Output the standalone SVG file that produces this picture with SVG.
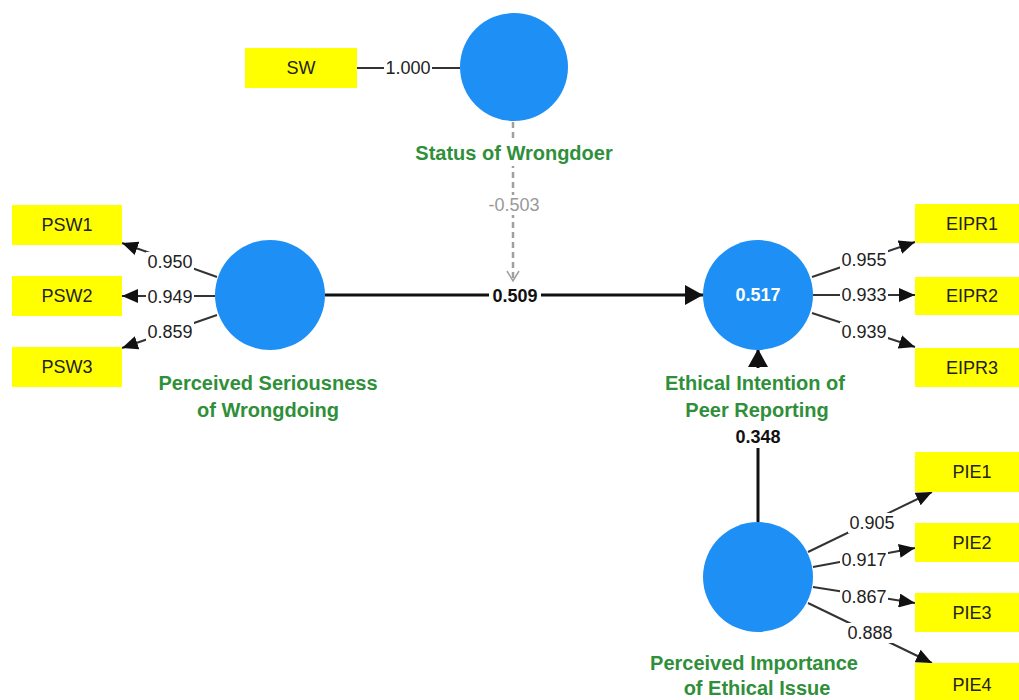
<svg xmlns="http://www.w3.org/2000/svg" width="1019" height="700" viewBox="0 0 1019 700">
<style>
.bg{fill:#ffffff}
.ind rect{fill:#ffff00}
.ind text{font-family:"Liberation Sans",Arial,sans-serif;font-size:18px;fill:#222;text-anchor:middle}
.lv circle{fill:#1e90f5}
.lbl{font-family:"Liberation Sans",Arial,sans-serif;font-size:20px;font-weight:bold;fill:#2f8f3a;text-anchor:middle}
.r2{font-family:"Liberation Sans",Arial,sans-serif;font-size:18px;font-weight:bold;fill:#fff;text-anchor:middle}
.load{stroke:#333;stroke-width:2;fill:none}
.path{stroke:#111;stroke-width:3;fill:none}
.mod{stroke:#a0a0a0;stroke-width:2.5;stroke-dasharray:6 4;fill:none}
.num{font-family:"Liberation Sans",Arial,sans-serif;font-size:18px;fill:#222;text-anchor:middle}
.bnum{font-weight:bold;fill:#111}
.gnum{fill:#999}
.lb{fill:#ffffff}
</style>
<defs>
<marker id="ah" viewBox="0 0 16 14" refX="16" refY="7" markerWidth="16" markerHeight="14" markerUnits="userSpaceOnUse" orient="auto">
<path d="M0,0 L16,7 L0,14 Z" fill="#111"/>
</marker>
<marker id="ahb" viewBox="0 0 18 20" refX="18" refY="10" markerWidth="18" markerHeight="20" markerUnits="userSpaceOnUse" orient="auto">
<path d="M0,0 L18,10 L0,20 Z" fill="#111"/>
</marker>
<marker id="aho" viewBox="0 0 12 14" refX="11" refY="7" markerWidth="12" markerHeight="14" markerUnits="userSpaceOnUse" orient="auto">
<path d="M1,1 L11,7 L1,13" fill="none" stroke="#a0a0a0" stroke-width="1.5"/>
</marker>
</defs>
<rect class="bg" x="0" y="0" width="1019" height="700"/>

<g id="connectors">
<line class="load" x1="357" y1="68" x2="460" y2="68"/>
<line class="load" x1="217" y1="277" x2="122" y2="243" marker-end="url(#ah)"/>
<line class="load" x1="215" y1="296" x2="122" y2="296" marker-end="url(#ah)"/>
<line class="load" x1="217" y1="315" x2="122" y2="348" marker-end="url(#ah)"/>
<line class="load" x1="812" y1="277" x2="915" y2="242" marker-end="url(#ah)"/>
<line class="load" x1="813" y1="295" x2="915" y2="295" marker-end="url(#ah)"/>
<line class="load" x1="812" y1="313" x2="915" y2="347" marker-end="url(#ah)"/>
<line class="load" x1="808" y1="552" x2="932" y2="492" marker-end="url(#ah)"/>
<line class="load" x1="813" y1="567" x2="915" y2="548" marker-end="url(#ah)"/>
<line class="load" x1="813" y1="587" x2="915" y2="603" marker-end="url(#ah)"/>
<line class="load" x1="808" y1="603" x2="932" y2="663" marker-end="url(#ah)"/>
<line class="path" x1="325" y1="295" x2="703" y2="295" marker-end="url(#ahb)"/>
<line class="path" x1="758" y1="522" x2="758" y2="349" marker-end="url(#ahb)"/>
<line class="mod" x1="513" y1="122" x2="513" y2="281" marker-end="url(#aho)"/>
<rect class="lb" x="384" y="58" width="48" height="20"/><text class="num" x="408" y="74">1.000</text>
<rect class="lb" x="146" y="252" width="48" height="20"/><text class="num" x="170" y="268">0.950</text>
<rect class="lb" x="146" y="287" width="48" height="20"/><text class="num" x="170" y="303">0.949</text>
<rect class="lb" x="146" y="322" width="48" height="20"/><text class="num" x="170" y="338">0.859</text>
<rect class="lb" x="840" y="250" width="48" height="20"/><text class="num" x="864" y="266">0.955</text>
<rect class="lb" x="840" y="285" width="48" height="20"/><text class="num" x="864" y="301">0.933</text>
<rect class="lb" x="840" y="322" width="48" height="20"/><text class="num" x="864" y="338">0.939</text>
<rect class="lb" x="848" y="513" width="48" height="20"/><text class="num" x="872" y="529">0.905</text>
<rect class="lb" x="840" y="550" width="48" height="20"/><text class="num" x="864" y="566">0.917</text>
<rect class="lb" x="840" y="587" width="48" height="20"/><text class="num" x="864" y="603">0.867</text>
<rect class="lb" x="846" y="623" width="48" height="20"/><text class="num" x="870" y="639">0.888</text>
<rect class="lb" x="489" y="286" width="52" height="20"/><text class="num bnum" x="515" y="302">0.509</text>
<rect class="lb" x="732" y="424" width="52" height="24"/><text class="num bnum" x="758" y="443">0.348</text>
<rect class="lb" x="486" y="195" width="56" height="20"/><text class="num gnum" x="514" y="211">-0.503</text>
</g>

<g id="SW" class="ind"><rect x="245" y="48" width="112" height="40"/><text x="301" y="74">SW</text></g>
<g id="PSW1" class="ind"><rect x="12" y="205" width="110" height="40"/><text x="67" y="231">PSW1</text></g>
<g id="PSW2" class="ind"><rect x="12" y="276" width="110" height="40"/><text x="67" y="302">PSW2</text></g>
<g id="PSW3" class="ind"><rect x="12" y="347" width="110" height="40"/><text x="67" y="373">PSW3</text></g>
<g id="EIPR1" class="ind"><rect x="915" y="204" width="110" height="39"/><text x="972" y="230">EIPR1</text></g>
<g id="EIPR2" class="ind"><rect x="915" y="277" width="110" height="38"/><text x="972" y="302">EIPR2</text></g>
<g id="EIPR3" class="ind"><rect x="915" y="348" width="110" height="39"/><text x="972" y="374">EIPR3</text></g>
<g id="PIE1" class="ind"><rect x="915" y="452" width="110" height="40"/><text x="972" y="478">PIE1</text></g>
<g id="PIE2" class="ind"><rect x="915" y="523" width="110" height="39"/><text x="972" y="549">PIE2</text></g>
<g id="PIE3" class="ind"><rect x="915" y="593" width="110" height="39"/><text x="972" y="619">PIE3</text></g>
<g id="PIE4" class="ind"><rect x="915" y="663" width="110" height="40"/><text x="972" y="691">PIE4</text></g>

<g id="StatusOfWrongdoer" class="lv">
<circle cx="514" cy="67" r="54"/>
<rect class="lb" x="414" y="138" width="200" height="28"/>
<text class="lbl" x="514" y="160">Status of Wrongdoer</text>
</g>
<g id="PerceivedSeriousness" class="lv">
<circle cx="270" cy="295" r="55"/>
<text class="lbl" x="268" y="390">Perceived Seriousness</text>
<text class="lbl" x="268" y="417">of Wrongdoing</text>
</g>
<g id="EthicalIntention" class="lv">
<circle cx="758" cy="295" r="55"/>
<text class="r2" x="758" y="301">0.517</text>
<rect class="lb" x="662" y="368" width="188" height="58"/>
<text class="lbl" x="755" y="390">Ethical Intention of</text>
<text class="lbl" x="757" y="417">Peer Reporting</text>
</g>
<g id="PerceivedImportance" class="lv">
<circle cx="758" cy="577" r="55"/>
<text class="lbl" x="754" y="670">Perceived Importance</text>
<text class="lbl" x="757" y="695">of Ethical Issue</text>
</g>
</svg>
